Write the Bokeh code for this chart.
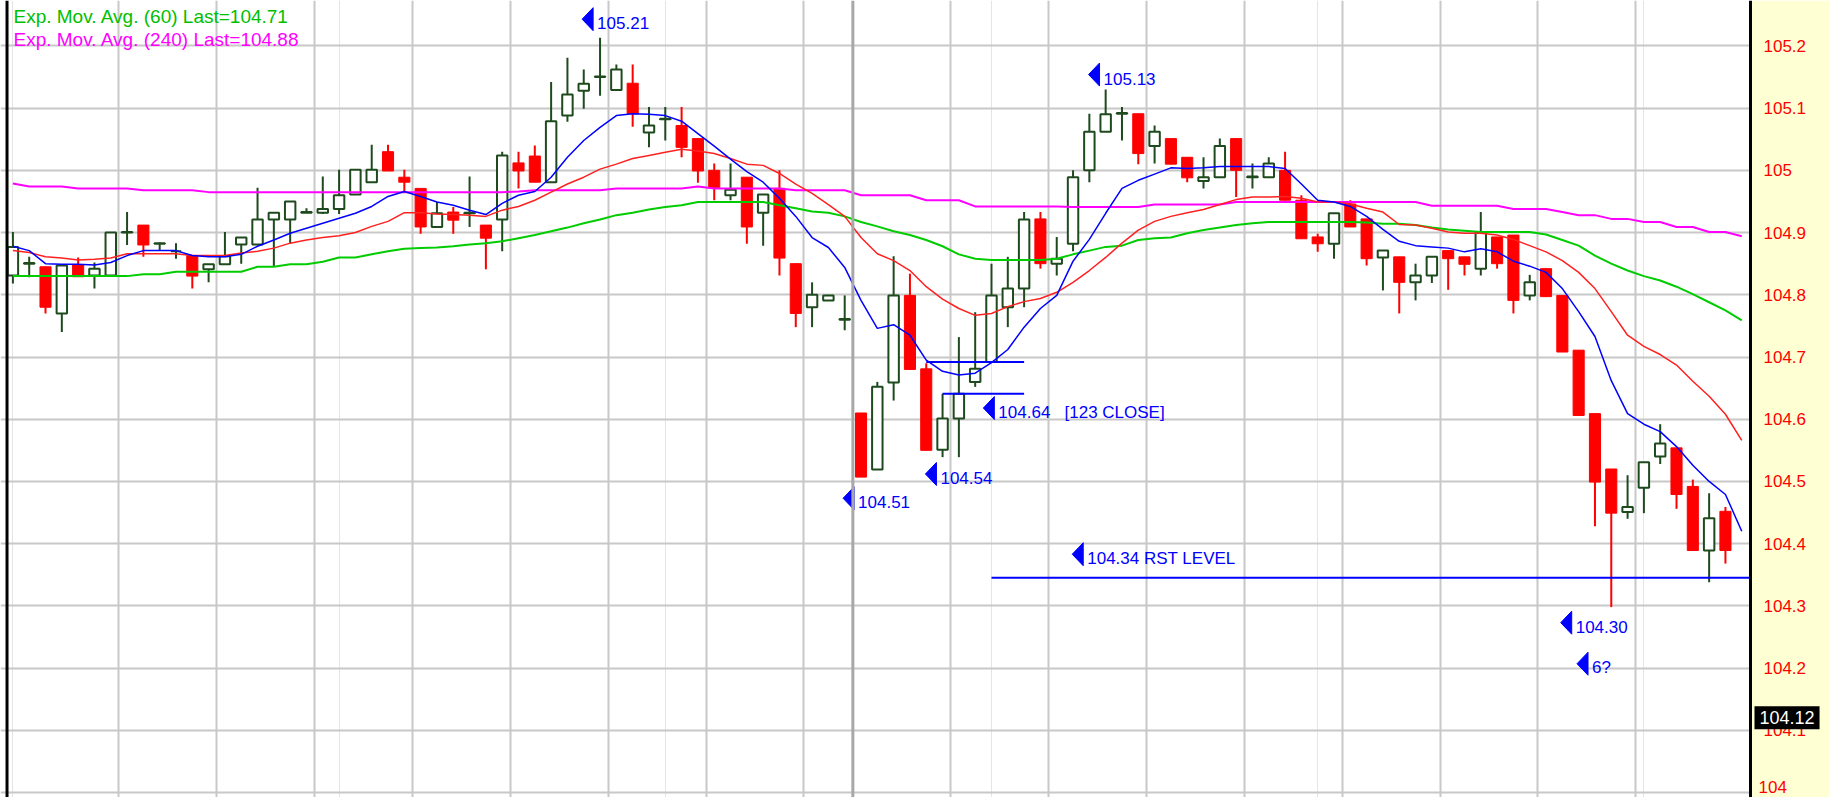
from bokeh.plotting import figure
from bokeh.models import Range1d, FixedTicker, Grid, Span, Label, BoxAnnotation
from bokeh.core.properties import value
from bokeh.embed import file_html
from bokeh.resources import INLINE

# ---------------- data ----------------
opens = [104.831, 104.850, 104.845, 104.770, 104.848, 104.831, 104.831, 104.900, 104.912, 104.882,
         104.870, 104.863, 104.841, 104.849, 104.881, 104.881, 104.921, 104.921, 104.932, 104.932,
         104.938, 104.961, 104.981, 105.030, 104.989, 104.971, 104.909, 104.933, 104.931, 104.912,
         104.921, 105.012, 105.023, 104.981, 105.088, 105.128, 105.150, 105.129, 105.140, 105.061,
         105.082, 105.072, 105.051, 105.000, 104.960, 104.989, 104.932, 104.971, 104.850, 104.780,
         104.791, 104.760, 104.610, 104.519, 104.659, 104.799, 104.681, 104.551, 104.601, 104.660,
         104.692, 104.780, 104.810, 104.922, 104.850, 104.882, 105.000, 105.062, 105.091, 105.091,
         105.039, 105.051, 105.021, 104.983, 104.989, 105.051, 104.989, 104.989, 105.000, 104.952,
         104.893, 104.882, 104.946, 104.922, 104.860, 104.861, 104.820, 104.831, 104.871, 104.861,
         104.842, 104.893, 104.896, 104.799, 104.842, 104.799, 104.711, 104.609, 104.520, 104.451,
         104.490, 104.540, 104.554, 104.492, 104.389, 104.452]
highs = [104.901, 104.861, 104.845, 104.847, 104.860, 104.852, 104.901, 104.933, 104.912, 104.884,
         104.883, 104.863, 104.849, 104.901, 104.893, 104.972, 104.932, 104.950, 104.939, 104.990,
         105.001, 105.001, 105.041, 105.041, 105.001, 104.971, 104.949, 104.941, 104.990, 104.912,
         105.030, 105.030, 105.040, 105.142, 105.181, 105.162, 105.213, 105.170, 105.170, 105.102,
         105.102, 105.102, 105.051, 105.011, 105.011, 104.989, 104.961, 105.000, 104.850, 104.820,
         104.800, 104.799, 104.610, 104.660, 104.862, 104.834, 104.690, 104.641, 104.732, 104.772,
         104.850, 104.861, 104.933, 104.933, 104.893, 105.000, 105.091, 105.130, 105.102, 105.091,
         105.072, 105.051, 105.021, 105.021, 105.051, 105.051, 105.011, 105.021, 105.030, 104.960,
         104.898, 104.931, 104.952, 104.922, 104.871, 104.861, 104.850, 104.861, 104.871, 104.861,
         104.933, 104.893, 104.896, 104.832, 104.842, 104.799, 104.711, 104.609, 104.520, 104.510,
         104.531, 104.592, 104.554, 104.503, 104.481, 104.459]
lows = [104.818, 104.828, 104.770, 104.740, 104.829, 104.810, 104.831, 104.880, 104.861, 104.871,
        104.858, 104.810, 104.820, 104.848, 104.850, 104.881, 104.846, 104.882, 104.932, 104.930,
        104.930, 104.961, 104.981, 104.999, 104.965, 104.898, 104.909, 104.898, 104.909, 104.841,
        104.870, 104.971, 104.981, 104.981, 105.078, 105.099, 105.120, 105.129, 105.070, 105.037,
        105.048, 105.021, 104.980, 104.952, 104.952, 104.882, 104.879, 104.831, 104.748, 104.748,
        104.791, 104.743, 104.507, 104.519, 104.630, 104.680, 104.550, 104.539, 104.539, 104.652,
        104.692, 104.748, 104.780, 104.842, 104.831, 104.870, 104.981, 105.062, 105.048, 105.010,
        105.011, 105.010, 104.981, 104.971, 104.988, 104.957, 104.971, 104.988, 104.952, 104.890,
        104.869, 104.858, 104.909, 104.847, 104.807, 104.770, 104.791, 104.819, 104.808, 104.831,
        104.831, 104.842, 104.770, 104.791, 104.797, 104.708, 104.606, 104.428, 104.298, 104.440,
        104.449, 104.528, 104.456, 104.389, 104.338, 104.368]
closes = [104.877, 104.851, 104.780, 104.847, 104.829, 104.842, 104.900, 104.901, 104.880, 104.883,
          104.870, 104.830, 104.849, 104.862, 104.892, 104.921, 104.932, 104.950, 104.933, 104.938,
          104.960, 105.001, 105.001, 104.999, 104.981, 104.909, 104.931, 104.920, 104.932, 104.891,
          105.024, 104.999, 104.981, 105.079, 105.122, 105.139, 105.151, 105.162, 105.091, 105.072,
          105.083, 105.037, 104.999, 104.972, 104.969, 104.909, 104.961, 104.859, 104.770, 104.800,
          104.799, 104.761, 104.507, 104.652, 104.799, 104.680, 104.550, 104.601, 104.641, 104.681,
          104.799, 104.810, 104.921, 104.850, 104.858, 104.989, 105.062, 105.090, 105.092, 105.027,
          105.062, 105.010, 104.988, 104.989, 105.039, 105.000, 104.990, 105.011, 104.952, 104.890,
          104.882, 104.931, 104.909, 104.858, 104.871, 104.820, 104.831, 104.861, 104.858, 104.849,
          104.901, 104.850, 104.791, 104.820, 104.797, 104.708, 104.606, 104.499, 104.449, 104.459,
          104.531, 104.561, 104.479, 104.389, 104.441, 104.389]

ema_fast = [104.878, 104.871, 104.850, 104.849, 104.849, 104.848, 104.852, 104.863, 104.871, 104.871,
            104.871, 104.863, 104.861, 104.861, 104.865, 104.878, 104.888, 104.899, 104.907, 104.915,
            104.923, 104.931, 104.942, 104.958, 104.966, 104.958, 104.949, 104.944, 104.936, 104.929,
            104.947, 104.960, 104.966, 104.989, 105.021, 105.048, 105.069, 105.088, 105.091, 105.090,
            105.088, 105.079, 105.059, 105.039, 105.018, 104.998, 104.981, 104.955, 104.926, 104.892,
            104.876, 104.844, 104.791, 104.746, 104.752, 104.735, 104.695, 104.677, 104.671, 104.674,
            104.691, 104.712, 104.748, 104.778, 104.799, 104.854, 104.889, 104.931, 104.971, 104.984,
            104.994, 105.004, 105.003, 105.004, 105.006, 105.006, 105.006, 105.006, 105.003, 104.978,
            104.952, 104.949, 104.942, 104.926, 104.905, 104.886, 104.879, 104.877, 104.875, 104.869,
            104.874, 104.869, 104.854, 104.846, 104.836, 104.810, 104.773, 104.733, 104.662, 104.609,
            104.592, 104.580, 104.556, 104.526, 104.500, 104.479, 104.420]
ema_mid = [104.871, 104.868, 104.861, 104.859, 104.856, 104.857, 104.859, 104.866, 104.866, 104.866,
           104.866, 104.863, 104.863, 104.863, 104.867, 104.870, 104.875, 104.883, 104.888, 104.892,
           104.895, 104.900, 104.910, 104.918, 104.932, 104.932, 104.930, 104.929, 104.928, 104.926,
           104.936, 104.942, 104.952, 104.965, 104.978, 104.989, 105.002, 105.010, 105.019, 105.024,
           105.029, 105.034, 105.031, 105.027, 105.019, 105.010, 105.008, 104.995, 104.978, 104.963,
           104.945, 104.926, 104.892, 104.866, 104.855, 104.839, 104.813, 104.793, 104.778, 104.767,
           104.770, 104.781, 104.789, 104.794, 104.804, 104.820, 104.839, 104.860, 104.883, 104.904,
           104.918, 104.926, 104.932, 104.937, 104.945, 104.953, 104.957, 104.957, 104.958, 104.955,
           104.949, 104.949, 104.946, 104.939, 104.933, 104.913, 104.912, 104.907, 104.901, 104.899,
           104.899, 104.896, 104.889, 104.879, 104.869, 104.855, 104.836, 104.810, 104.773, 104.735,
           104.717, 104.704, 104.687, 104.661, 104.637, 104.608, 104.566]
ema_60 = [104.830, 104.830, 104.830, 104.830, 104.830, 104.830, 104.830, 104.830, 104.833, 104.833,
          104.837, 104.837, 104.837, 104.837, 104.837, 104.845, 104.845, 104.849, 104.849, 104.853,
          104.860, 104.860, 104.865, 104.870, 104.874, 104.875, 104.876, 104.878, 104.881, 104.883,
          104.886, 104.891, 104.896, 104.902, 104.908, 104.915, 104.921, 104.928, 104.932, 104.937,
          104.941, 104.944, 104.949, 104.949, 104.949, 104.949, 104.949, 104.944, 104.939, 104.934,
          104.932, 104.926, 104.917, 104.910, 104.902, 104.896, 104.888, 104.878, 104.865, 104.858,
          104.856, 104.856, 104.856, 104.856, 104.858, 104.865, 104.871, 104.877, 104.879, 104.888,
          104.891, 104.892, 104.899, 104.904, 104.908, 104.912, 104.915, 104.917, 104.917, 104.917,
          104.917, 104.917, 104.917, 104.916, 104.914, 104.914, 104.912, 104.908, 104.905, 104.903,
          104.901, 104.901, 104.901, 104.901, 104.897, 104.888, 104.879, 104.863, 104.850, 104.839,
          104.830, 104.823, 104.813, 104.801, 104.788, 104.775, 104.759]
ema_240 = [104.979, 104.974, 104.974, 104.974, 104.971, 104.971, 104.971, 104.971, 104.968, 104.968,
           104.968, 104.968, 104.965, 104.965, 104.965, 104.965, 104.965, 104.965, 104.965, 104.965,
           104.965, 104.965, 104.965, 104.965, 104.965, 104.965, 104.965, 104.965, 104.965, 104.965,
           104.965, 104.966, 104.968, 104.968, 104.968, 104.968, 104.968, 104.971, 104.971, 104.971,
           104.971, 104.971, 104.974, 104.971, 104.971, 104.971, 104.971, 104.971, 104.968, 104.968,
           104.968, 104.968, 104.960, 104.960, 104.960, 104.960, 104.952, 104.952, 104.952, 104.942,
           104.942, 104.942, 104.942, 104.942, 104.942, 104.941, 104.941, 104.941, 104.941, 104.941,
           104.945, 104.945, 104.945, 104.945, 104.945, 104.949, 104.949, 104.949, 104.949, 104.949,
           104.949, 104.949, 104.949, 104.949, 104.949, 104.949, 104.949, 104.943, 104.943, 104.943,
           104.943, 104.943, 104.938, 104.938, 104.938, 104.933, 104.928, 104.928, 104.922, 104.922,
           104.917, 104.917, 104.909, 104.909, 104.901, 104.901, 104.894]

price_ticks = [104.0, 104.1, 104.2, 104.3, 104.4, 104.5, 104.6, 104.7, 104.8, 104.9, 105.0, 105.1, 105.2]
price_tick_labels = ["104", "104.1", "104.2", "104.3", "104.4", "104.5", "104.6",
                     "104.7", "104.8", "104.9", "105", "105.1", "105.2"]
time_grid_bars = [6.5, 12.5, 18.5, 24.5, 30.5, 36.5, 42.5, 48.5,
                  57.5, 63.5, 69.5, 75.5, 81.5, 87.5, 93.5, 99.5]
session_break_bars = [51.5]

ann_texts = ["105.21", "105.13", "104.64\u00a0\u00a0 [123 CLOSE]", "104.54", "104.51",
             "104.34 RST LEVEL", "104.30", "6?"]
ann_bars = [34.9, 65.95, 59.5, 55.95, 50.9, 64.95, 94.9, 95.9]
ann_prices = [105.243, 105.154, 104.618, 104.512, 104.473, 104.383, 104.273, 104.207]

pattern_levels = [104.692, 104.641]
pattern_start = [56, 57]
pattern_end = [62, 62]
rst_level = 104.345
rst_start = 60

last_price_marker = 104.12
legend_texts = ["Exp. Mov. Avg. (60) Last=104.71", "Exp. Mov. Avg. (240) Last=104.88"]

# ---------------- layout / style ----------------
W, H = 1829, 797
X_START, X_END = -0.76, 111.38       # whole canvas width in bar units
AXIS_AT = 106.536                    # where the price scale begins
FRAME_EDGE = -0.36                   # left chart border
Y_START, Y_END = 103.992, 105.273
px_per_bar = W / (X_END - X_START)
price_per_px = (Y_END - Y_START) / H

UP_LINE = "#1E4A1E"
DOWN = "#FF0000"
BLUE = "#0000FF"
SANS = value("Liberation Sans")

p = figure(width=W, height=H, x_range=Range1d(X_START, X_END), y_range=Range1d(Y_START, Y_END),
           y_axis_location="right", x_axis_location=None, output_backend="svg",
           toolbar_location=None, min_border_left=0, min_border_top=0, min_border_bottom=0,
           min_border_right=0, border_fill_color="white", background_fill_color="white",
           outline_line_color=None)

p.ygrid.ticker = FixedTicker(ticks=price_ticks)
p.ygrid.grid_line_color = "#C8C8C8"
p.ygrid.grid_line_width = 2
p.add_layout(Grid(dimension=0, ticker=FixedTicker(ticks=time_grid_bars),
                  grid_line_color="#C8C8C8", grid_line_width=2))
for b in session_break_bars:
    p.add_layout(Span(location=b, dimension="height", line_color="#A8A8A8", line_width=3))

# pale yellow price-scale background (covers grid lines there)
p.add_layout(BoxAnnotation(left=AXIS_AT, fill_color="#FFFFD4", fill_alpha=1.0,
                           line_color=None, level="underlay"))
p.add_layout(Span(location=FRAME_EDGE, dimension="height", line_color="black", line_width=3))

# price scale: the lowest label sits on the bottom edge, so it is drawn just above its line
ax = p.yaxis[0]
ax.fixed_location = AXIS_AT
ax.ticker = FixedTicker(ticks=price_ticks[1:])
ax.major_label_overrides = dict(zip(price_ticks[1:], price_tick_labels[1:]))
ax.major_label_text_color = "#FF0000"
ax.major_label_text_font = "Liberation Sans"
ax.major_label_text_font_size = "17px"
ax.major_tick_line_color = None
ax.minor_tick_line_color = None
ax.major_label_standoff = 7
ax.axis_line_color = "black"
ax.axis_line_width = 3
p.add_layout(Label(x=AXIS_AT, y=price_ticks[0], x_offset=8, y_offset=0, text=price_tick_labels[0],
                   text_baseline="bottom", text_font="Liberation Sans", text_font_size="17px",
                   text_color="#FF0000"))

# candles
n = len(opens)
idx = list(range(n))
up = [i for i in idx if closes[i] >= opens[i]]
dn = [i for i in idx if closes[i] < opens[i]]

def pick(arr, ids):
    return [arr[i] for i in ids]

p.segment(x0=up, y0=pick(lows, up), x1=up, y1=pick(highs, up), line_color=UP_LINE, line_width=2)
p.segment(x0=dn, y0=pick(lows, dn), x1=dn, y1=pick(highs, dn), line_color=DOWN, line_width=2)
p.vbar(x=up, width=0.64, top=pick(closes, up), bottom=pick(opens, up),
       fill_color="white", line_color=UP_LINE, line_width=2)
p.vbar(x=dn, width=0.68, top=pick(opens, dn), bottom=pick(closes, dn),
       fill_color=DOWN, line_color=DOWN, line_width=1)

# moving averages
mx = list(range(len(ema_fast)))
p.line(mx, ema_240, line_color="#FF00FF", line_width=2)
p.line(mx, ema_60, line_color="#00CC00", line_width=2)
p.line(mx, ema_mid, line_color="#FF2020", line_width=1.5)
p.line(mx, ema_fast, line_color=BLUE, line_width=1.5)

# level lines
p.segment(x0=pattern_start, y0=pattern_levels, x1=pattern_end, y1=pattern_levels,
          line_color=BLUE, line_width=2)
p.segment(x0=[rst_start], y0=[rst_level], x1=[AXIS_AT], y1=[rst_level], line_color=BLUE, line_width=2)

# annotation arrows + texts
tw = 11 / px_per_bar
th = 11.5 * price_per_px
xs = [[b, b + tw, b + tw] for b in ann_bars]
ys = [[v, v + th, v - th] for v in ann_prices]
p.patches(xs, ys, fill_color=BLUE, line_color=BLUE, line_width=1)
p.text(x=ann_bars, y=ann_prices, text=ann_texts, x_offset=15, y_offset=4,
       text_baseline="middle", text_align="left", text_font=SANS,
       text_font_size="17px", text_color=BLUE)

# legend texts
p.add_layout(Label(x=X_START, y=Y_END, x_offset=13, y_offset=-16, text=legend_texts[0],
                   text_baseline="alphabetic", text_font="Liberation Sans", text_font_size="19px",
                   text_color="#00C000"))
p.add_layout(Label(x=X_START, y=Y_END, x_offset=13, y_offset=-39, text=legend_texts[1],
                   text_baseline="alphabetic", text_font="Liberation Sans", text_font_size="19px",
                   text_color="#FF00FF"))

# last price box on the price scale
p.add_layout(Label(x=AXIS_AT, y=last_price_marker, x_offset=4, text=f"{last_price_marker:.2f}",
                   text_baseline="middle", text_font="Liberation Sans", text_font_size="18px",
                   text_color="white", background_fill_color="black", padding=5))

open("out.html", "w").write(file_html(p, INLINE))
